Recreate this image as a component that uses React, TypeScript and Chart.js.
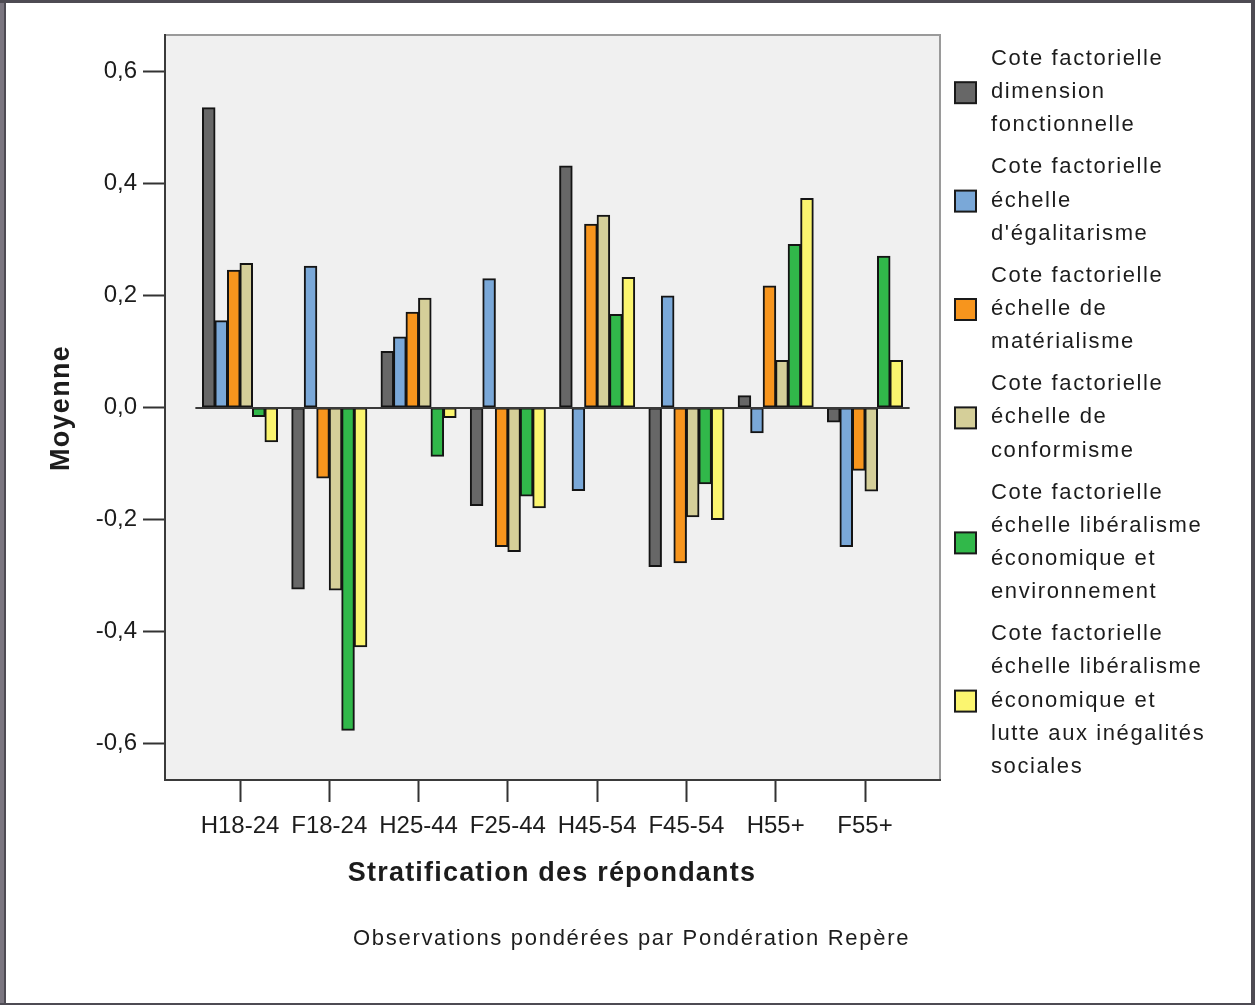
import React, { useEffect, useRef } from 'react';
import { Chart, registerables } from 'chart.js';

Chart.register(...registerables);

const categories = ['H18-24', 'F18-24', 'H25-44', 'F25-44', 'H45-54', 'F45-54', 'H55+', 'F55+'];

const dimensionFonctionnelle = [0.535, -0.324, 0.100, -0.175, 0.431, -0.284, 0.021, -0.026];
const egalitarisme = [0.155, 0.252, 0.126, 0.230, -0.148, 0.199, -0.045, -0.248];
const materialisme = [0.245, -0.126, 0.170, -0.248, 0.327, -0.277, 0.217, -0.112];
const conformisme = [0.257, -0.326, 0.195, -0.257, 0.343, -0.195, 0.084, -0.149];
const liberalismeEnvironnement = [-0.016, -0.576, -0.087, -0.158, 0.166, -0.136, 0.291, 0.270];
const liberalismeInegalites = [-0.061, -0.427, -0.018, -0.179, 0.232, -0.200, 0.373, 0.084];

const seriesValues = [
  dimensionFonctionnelle,
  egalitarisme,
  materialisme,
  conformisme,
  liberalismeEnvironnement,
  liberalismeInegalites,
];

const seriesLegend = [
  ['Cote factorielle', 'dimension', 'fonctionnelle'],
  ['Cote factorielle', 'échelle', "d'égalitarisme"],
  ['Cote factorielle', 'échelle de', 'matérialisme'],
  ['Cote factorielle', 'échelle de', 'conformisme'],
  ['Cote factorielle', 'échelle libéralisme', 'économique et', 'environnement'],
  ['Cote factorielle', 'échelle libéralisme', 'économique et', 'lutte aux inégalités', 'sociales'],
];

const seriesColors = ['#676767', '#7aa8d8', '#f7951d', '#d5cf99', '#31b84a', '#fbf56f'];

const yTicks = [-0.6, -0.4, -0.2, 0, 0.2, 0.4, 0.6];
const xTitle = 'Stratification des répondants';
const yTitle = 'Moyenne';
const footnote = 'Observations pondérées par Pondération Repère';

const FONT = '"Liberation Sans", Arial, sans-serif';
const TEXT = '#1c1c1c';

function spacedText(
  ctx: CanvasRenderingContext2D,
  text: string,
  x: number,
  y: number,
  font: string,
  spacing: number,
  align: CanvasTextAlign,
) {
  ctx.save();
  ctx.font = font;
  (ctx as any).letterSpacing = spacing + 'px';
  ctx.textAlign = align;
  ctx.textBaseline = 'middle';
  ctx.fillStyle = TEXT;
  ctx.fillText(text, x, y);
  ctx.restore();
}

const decorPlugin = {
  id: 'decor',
  beforeDraw(chart: any) {
    const { ctx, width, height, chartArea } = chart;
    ctx.save();
    ctx.fillStyle = '#ffffff';
    ctx.fillRect(0, 0, width, height);
    // page frame
    ctx.fillStyle = '#7b7680';
    ctx.fillRect(0, 0, 4, height);
    ctx.fillStyle = '#4e4b53';
    ctx.fillRect(4, 0, 2, height);
    ctx.fillRect(0, 0, width, 3);
    ctx.fillRect(width - 4, 0, 4, height);
    ctx.fillRect(0, height - 2, width, 2);
    // plot background
    ctx.fillStyle = '#f0f0f0';
    ctx.fillRect(chartArea.left, chartArea.top, chartArea.right - chartArea.left, chartArea.bottom - chartArea.top);
    ctx.strokeStyle = '#9a9a9a';
    ctx.lineWidth = 2;
    ctx.strokeRect(chartArea.left, chartArea.top, chartArea.right - chartArea.left, chartArea.bottom - chartArea.top);
    ctx.restore();
  },
  afterDatasetsDraw(chart: any) {
    const { ctx } = chart;
    const xs = chart.scales.x;
    const ys = chart.scales.y;
    const y0 = Math.round(ys.getPixelForValue(0));
    ctx.save();
    ctx.strokeStyle = '#3a3a3a';
    ctx.lineWidth = 2;
    ctx.beginPath();
    ctx.moveTo(xs.getPixelForValue(-0.5), y0);
    ctx.lineTo(xs.getPixelForValue(categories.length - 0.5), y0);
    ctx.stroke();
    ctx.restore();
  },
  afterDraw(chart: any) {
    const { ctx } = chart;
    // axis titles
    spacedText(ctx, xTitle, 552, 874, `bold 27px ${FONT}`, 1.2, 'center');
    ctx.save();
    ctx.translate(62, 408);
    ctx.rotate(-Math.PI / 2);
    spacedText(ctx, yTitle, 0, 0, `bold 27px ${FONT}`, 1.3, 'center');
    ctx.restore();
    // footnote
    spacedText(ctx, footnote, 353, 939, `22px ${FONT}`, 1.7, 'left');
    // legend
    const lineH = 33.2;
    const itemGap = 8.8;
    let y = 59;
    chart.data.datasets.forEach((ds: any, i: number) => {
      const lines: string[] = seriesLegend[i];
      const first = y;
      lines.forEach((ln) => {
        spacedText(ctx, ln, 991, y, `22px ${FONT}`, 1.6, 'left');
        y += lineH;
      });
      const last = y - lineH;
      const mid = (first + last) / 2;
      ctx.save();
      ctx.fillStyle = ds.backgroundColor;
      ctx.fillRect(955, mid - 10, 21, 21);
      ctx.strokeStyle = '#1a1a1a';
      ctx.lineWidth = 2;
      ctx.strokeRect(955, mid - 10, 21, 21);
      ctx.restore();
      y += itemGap;
    });
  },
};

export default function App() {
  const canvasRef = useRef<HTMLCanvasElement | null>(null);

  useEffect(() => {
    const canvas = canvasRef.current;
    if (!canvas) return;
    const datasets = seriesValues.map((vals, i) => ({
      label: seriesLegend[i].join(' '),
      data: vals.map((v, j) => ({ x: j, y: v })),
      backgroundColor: seriesColors[i],
      borderColor: '#141414',
      borderWidth: 2,
      borderSkipped: false,
      inflateAmount: 0.5,
      categoryPercentage: 0.84,
      barPercentage: 1,
    }));
    const chart = new Chart(canvas, {
      type: 'bar',
      data: { datasets } as any,
      plugins: [decorPlugin],
      options: {
        animation: false,
        responsive: false,
        devicePixelRatio: 1,
        layout: { padding: { left: 0, top: 35, right: 315, bottom: 0 } },
        plugins: { legend: { display: false }, tooltip: { enabled: false } },
        scales: {
          x: {
            type: 'linear',
            offset: false,
            min: -0.84,
            max: categories.length - 1 + 0.84,
            afterBuildTicks: (s: any) => {
              s.ticks = categories.map((_, i) => ({ value: i }));
            },
            afterFit: (s: any) => {
              s.height = 225;
            },
            grid: { offset: false, drawOnChartArea: false, drawTicks: true, tickLength: 22, tickColor: '#333333', tickWidth: 2 },
            border: { display: true, color: '#3a3a3a', width: 2 },
            ticks: {
              autoSkip: false,
              maxRotation: 0,
              minRotation: 0,
              padding: 10,
              color: TEXT,
              font: { family: FONT, size: 24 },
              callback: (v: any) => categories[Math.round(Number(v))] ?? '',
            },
          },
          y: {
            type: 'linear',
            min: -0.665,
            max: 0.665,
            afterBuildTicks: (s: any) => {
              s.ticks = yTicks.map((v) => ({ value: v }));
            },
            afterFit: (s: any) => {
              s.width = 165;
            },
            grid: { drawOnChartArea: false, drawTicks: true, tickLength: 22, tickColor: '#333333', tickWidth: 2 },
            border: { display: true, color: '#3a3a3a', width: 2 },
            ticks: {
              padding: 6,
              color: TEXT,
              font: { family: FONT, size: 24 },
              callback: (v: any) => (Math.round(Number(v) * 10) / 10).toFixed(1).replace('.', ','),
            },
          },
        },
      } as any,
    });
    return () => chart.destroy();
  }, []);

  return (
    <div style={{ position: 'fixed', left: 0, top: 0, width: 1255, height: 1005, background: '#fff' }}>
      <canvas ref={canvasRef} width={1255} height={1005} style={{ display: 'block', width: 1255, height: 1005 }} />
    </div>
  );
}
